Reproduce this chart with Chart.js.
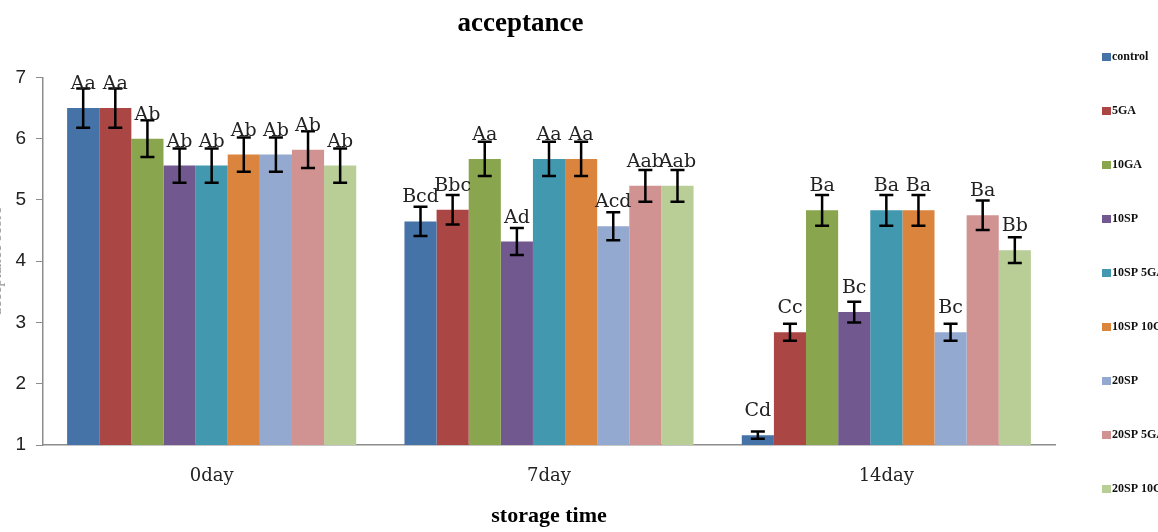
<!DOCTYPE html>
<html>
<head>
<meta charset="utf-8">
<title>acceptance</title>
<script src="https://cdn.jsdelivr.net/npm/chart.js@4.4.1/dist/chart.umd.min.js"></script>
<style>
  html, body { margin: 0; padding: 0; background: #fff; overflow: hidden; }
  #wrap { position: absolute; left: -14px; top: 0; width: 1172px; height: 532px; }
</style>
</head>
<body>
<div id="wrap"><canvas id="chart"></canvas></div>
<script>
// ── DATA ──────────────────────────────────
const days = ['0day', '7day', '14day'];
const groups = ['control', '5GA', '10GA', '10SP', '10SP 5GA', '10SP 10GA', '20SP', '20SP 5GA', '20SP 10GA'];
const colors = ['#4572A7', '#AA4643', '#89A54E', '#71588F', '#4198AF', '#DB843D', '#93A9CF', '#D19392', '#B9CD96'];

const control  = [6.50, 4.65, 1.16];
const ga5      = [6.50, 4.84, 2.84];
const ga10     = [6.00, 5.67, 4.83];
const sp10     = [5.56, 4.32, 3.17];
const sp10ga5  = [5.56, 5.67, 4.83];
const sp10ga10 = [5.74, 5.67, 4.83];
const sp20     = [5.74, 4.57, 2.84];
const sp20ga5  = [5.82, 5.23, 4.75];
const sp20ga10 = [5.56, 5.23, 4.18];

const errControl  = [0.32, 0.24, 0.06];
const errGa5      = [0.32, 0.24, 0.14];
const errGa10     = [0.30, 0.28, 0.25];
const errSp10     = [0.28, 0.22, 0.17];
const errSp10ga5  = [0.28, 0.28, 0.25];
const errSp10ga10 = [0.28, 0.28, 0.25];
const errSp20     = [0.28, 0.23, 0.14];
const errSp20ga5  = [0.30, 0.26, 0.24];
const errSp20ga10 = [0.28, 0.26, 0.21];

const lblControl  = ['Aa', 'Bcd', 'Cd'];
const lblGa5      = ['Aa', 'Bbc', 'Cc'];
const lblGa10     = ['Ab', 'Aa', 'Ba'];
const lblSp10     = ['Ab', 'Ad', 'Bc'];
const lblSp10ga5  = ['Ab', 'Aa', 'Ba'];
const lblSp10ga10 = ['Ab', 'Aa', 'Ba'];
const lblSp20     = ['Ab', 'Acd', 'Bc'];
const lblSp20ga5  = ['Ab', 'Aab', 'Ba'];
const lblSp20ga10 = ['Ab', 'Aab', 'Bb'];

const yTicks = [1, 2, 3, 4, 5, 6, 7];

const values = [control, ga5, ga10, sp10, sp10ga5, sp10ga10, sp20, sp20ga5, sp20ga10];
const errors = [errControl, errGa5, errGa10, errSp10, errSp10ga5, errSp10ga10, errSp20, errSp20ga5, errSp20ga10];
const letters = [lblControl, lblGa5, lblGa10, lblSp10, lblSp10ga5, lblSp10ga10, lblSp20, lblSp20ga5, lblSp20ga10];

// ── PLUGINS ───────────────────────────────
const errorBars = {
  id: 'errorBars',
  afterDatasetsDraw(chart) {
    const ctx = chart.ctx;
    const y = chart.scales.y;
    ctx.save();
    ctx.strokeStyle = '#000';
    ctx.lineWidth = 2.5;
    ctx.fillStyle = '#222';
    ctx.font = '19px "DejaVu Serif"';
    ctx.textAlign = 'center';
    ctx.textBaseline = 'alphabetic';
    chart.data.datasets.forEach((ds, i) => {
      const meta = chart.getDatasetMeta(i);
      meta.data.forEach((bar, j) => {
        const v = ds.data[j];
        const e = errors[i][j];
        const top = y.getPixelForValue(v + e);
        const bot = y.getPixelForValue(v - e);
        ctx.beginPath();
        ctx.moveTo(bar.x, top); ctx.lineTo(bar.x, bot);
        ctx.moveTo(bar.x - 7, top); ctx.lineTo(bar.x + 7, top);
        ctx.moveTo(bar.x - 7, bot); ctx.lineTo(bar.x + 7, bot);
        ctx.stroke();
        ctx.fillText(letters[i][j], bar.x, y.getPixelForValue(v) - 19);
      });
    });
    ctx.restore();
  }
};

const sideLegend = {
  id: 'sideLegend',
  afterDraw(chart) {
    const ctx = chart.ctx;
    ctx.save();
    ctx.font = 'bold 12px "Liberation Serif"';
    ctx.textBaseline = 'middle';
    chart.data.datasets.forEach((ds, i) => {
      const cy = 57 + i * 54;
      ctx.fillStyle = ds.backgroundColor;
      ctx.fillRect(1116, cy - 4, 9, 8);
      ctx.fillStyle = '#111';
      ctx.fillText(ds.label, 1126, cy);
    });
    ctx.restore();
  }
};

// ── CHART ─────────────────────────────────
new Chart(document.getElementById('chart'), {
  type: 'bar',
  data: {
    labels: days,
    datasets: groups.map((g, i) => ({
      label: g,
      data: values[i],
      backgroundColor: colors[i],
      borderWidth: 0,
      categoryPercentage: 0.857,
      barPercentage: 1.0
    }))
  },
  options: {
    responsive: true,
    maintainAspectRatio: false,
    animation: false,
    layout: { padding: { left: 0, right: 103, top: 4, bottom: 0 } },
    plugins: {
      legend: { display: false },
      tooltip: { enabled: false },
      title: {
        display: true,
        text: 'acceptance',
        color: '#000',
        font: { family: 'Liberation Serif', size: 27, weight: 'bold' },
        padding: { top: 4, bottom: 37 }
      }
    },
    scales: {
      x: {
        afterFit: (scale) => { scale.height = 87; },
        grid: { display: false, drawTicks: false },
        border: { display: true, color: '#8c8c8c', width: 1.5 },
        ticks: { color: '#222', font: { family: 'DejaVu Serif', size: 18 }, padding: 21 },
        title: {
          display: true,
          text: 'storage time',
          color: '#000',
          font: { family: 'Liberation Serif', size: 22, weight: 'bold' },
          padding: { top: 0, bottom: 2 }
        }
      },
      y: {
        min: 1,
        max: 7,
        afterFit: (scale) => { scale.width = 57; },
        afterBuildTicks: (scale) => { scale.ticks = yTicks.map(v => ({ value: v })); },
        grid: { display: true, drawOnChartArea: false, tickLength: 7, color: '#8c8c8c' },
        border: { display: true, color: '#8c8c8c', width: 1.5 },
        ticks: { color: '#222', font: { family: 'Liberation Sans', size: 19 }, padding: 10 },
        title: {
          display: true,
          text: 'acceptance score',
          color: '#999',
          font: { family: 'Liberation Serif', size: 16 },
          padding: { top: 1, bottom: 0 }
        }
      }
    }
  },
  plugins: [errorBars, sideLegend]
});
</script>
</body>
</html>
